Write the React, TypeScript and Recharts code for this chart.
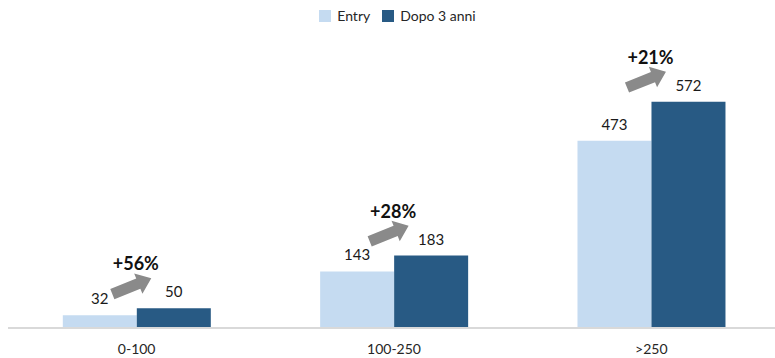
import { BarChart, Bar, XAxis, YAxis, LabelList } from "recharts";

const categories = ["0-100", "100-250", ">250"];
const entryValues = [32, 143, 473];
const afterValues = [50, 183, 572];
const growthLabels = ["+56%", "+28%", "+21%"];

const LIGHT = "#c5dbf1";
const DARK = "#285a84";
const ARROW = "#8a8a8a";

const data = categories.map((name, i) => ({
  name,
  entry: entryValues[i],
  after: afterValues[i],
}));

// Gray block arrow + percentage drawn above each "Dopo 3 anni" bar
function GrowthLabel(props: any) {
  const { x, y, index } = props;
  const cx = Number(x) - 5;
  const cy = Number(y) - 22;
  return (
    <g>
      <path
        d="M -21,-5.5 L 7,-5.5 L 7,-11 L 21,0 L 7,11 L 7,5.5 L -21,5.5 Z"
        fill={ARROW}
        transform={`translate(${cx},${cy}) rotate(-22)`}
      />
      <text
        x={Number(x) - 1}
        y={Number(y) - 45}
        textAnchor="middle"
        dominantBaseline="central"
        fontSize={18}
        fontWeight={700}
        fill="#111"
      >
        {growthLabels[index]}
      </text>
    </g>
  );
}

export default function App() {
  return (
    <div
      style={{
        position: "absolute",
        left: 0,
        top: 0,
        width: 775,
        height: 358,
        overflow: "hidden",
        background: "#fff",
        fontFamily: "Lato, sans-serif",
      }}
    >
      {/* Legend */}
      <div
        style={{
          position: "absolute",
          top: 7,
          left: 0,
          width: 775,
          display: "flex",
          justifyContent: "center",
          gap: 12,
          fontSize: 14,
          color: "#262626",
          paddingLeft: 20,
          boxSizing: "border-box",
        }}
      >
        <div style={{ display: "flex", alignItems: "center", gap: 6 }}>
          <div style={{ width: 12, height: 12, background: LIGHT }} />
          <span>Entry</span>
        </div>
        <div style={{ display: "flex", alignItems: "center", gap: 6 }}>
          <div style={{ width: 12, height: 12, background: DARK }} />
          <span>Dopo 3 anni</span>
        </div>
      </div>

      <BarChart
        width={782}
        height={358}
        data={data}
        margin={{ top: 51, right: 2, bottom: 0, left: 8 }}
        barCategoryGap="21.3%"
        barGap={0}
      >
        <XAxis
          dataKey="name"
          height={30}
          tickLine={false}
          axisLine={{ stroke: "#d9d9d9", strokeWidth: 2 }}
          tick={{ fontSize: 14, fill: "#262626" }}
          tickMargin={10}
        />
        <YAxis hide domain={[0, 700]} />
        <Bar dataKey="entry" fill={LIGHT} isAnimationActive={false}>
          <LabelList dataKey="entry" position="top" offset={11} fontSize={15} fill="#1a1a1a" />
        </Bar>
        <Bar dataKey="after" fill={DARK} isAnimationActive={false}>
          <LabelList dataKey="after" position="top" offset={11} fontSize={15} fill="#1a1a1a" />
          <LabelList dataKey="after" content={<GrowthLabel />} />
        </Bar>
      </BarChart>
    </div>
  );
}
